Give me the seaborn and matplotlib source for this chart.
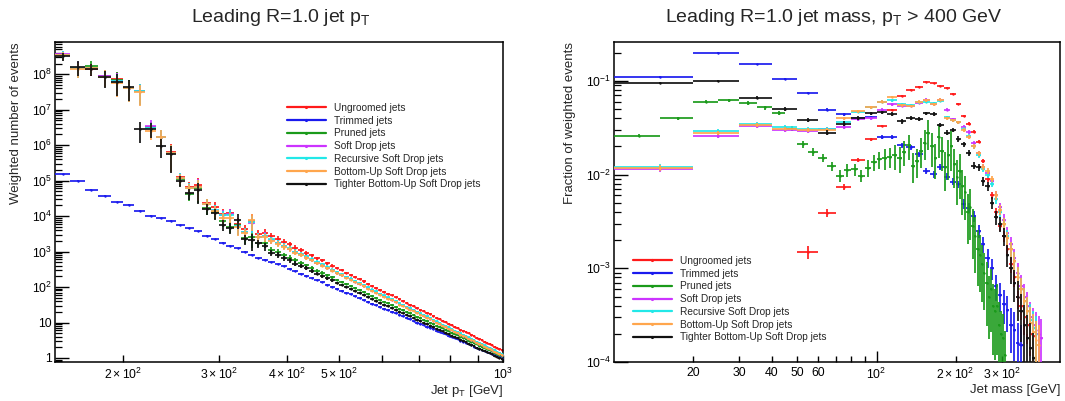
import numpy as np
import matplotlib
matplotlib.use("Agg")
import matplotlib.pyplot as plt
import seaborn as sns
from matplotlib.lines import Line2D
from matplotlib.ticker import FixedLocator, FixedFormatter, NullFormatter

nan = float("nan")

# ---------------- data: left panel (leading jet pT, 10 GeV bins 150-1000) ----------------
pt_edges = list(range(150, 1001, 10))

ungroomed_pt = [3.4e8, 1.5e8, 1.4e8, 9.0e7, 7.2e7, 4.2e7, 3.3e7, 3.2e6, 1.75e6, 6.4e5,
                1.25e5, 6.6e4, 7.6e4, 2.3e4, 1.8e4, 1.15e4, 1.2e4, 6.0e3, 4.4e3, 7.5e3,
                3.2e3, 3.4e3,
                2.8e3, 2.3e3, 1.9e3, 1.6e3, 1.3e3, 1.1e3, 9.3e2, 7.8e2, 6.5e2, 5.6e2,
                4.7e2, 4.0e2, 3.4e2, 3.0e2, 2.5e2, 2.2e2, 1.9e2, 1.66e2, 1.44e2, 1.25e2,
                1.09e2, 9.6e1, 8.3e1, 7.4e1, 6.5e1, 5.8e1, 5.1e1, 4.5e1, 4.1e1, 3.6e1,
                3.2e1, 2.9e1, 2.6e1, 2.3e1, 2.1e1, 1.9e1, 1.7e1, 1.5e1, 1.37e1, 1.23e1,
                1.12e1, 1.02e1, 9.3, 8.3, 7.6, 7.0, 6.3, 5.8, 5.3, 4.9,
                4.4, 4.1, 3.7, 3.4, 3.2, 2.9, 2.7, 2.5, 2.3, 2.1,
                1.95, 1.8, 1.66]
trimmed_pt = [1.5e5, 9.8e4, 5.5e4, 3.8e4, 2.5e4, 2.1e4, 1.4e4, 1.02e4, 8.8e3, 7.4e3,
              5.5e3, 4.6e3, 3.7e3, 2.8e3, 2.25e3, 1.8e3, 1.45e3, 1.26e3, 1.0e3, 8.1e2,
              6.6e2, 5.9e2,
              5.0e2, 4.4e2, 3.8e2, 3.3e2, 2.8e2, 2.4e2, 2.1e2, 1.8e2, 1.55e2, 1.35e2,
              1.17e2, 1.02e2, 8.9e1, 7.9e1, 6.9e1, 6.2e1, 5.5e1, 4.9e1, 4.3e1, 3.85e1,
              3.4e1, 3.1e1, 2.75e1, 2.45e1, 2.2e1, 2.0e1, 1.8e1, 1.63e1, 1.49e1, 1.35e1,
              1.23e1, 1.1e1, 1.0e1, 9.2, 8.5, 7.7, 7.1, 6.5, 5.9, 5.4,
              5.0, 4.6, 4.3, 3.9, 3.6, 3.4, 3.1, 2.9, 2.65, 2.5,
              2.3, 2.1, 1.97, 1.83, 1.73, 1.6, 1.49, 1.4, 1.3, 1.21,
              1.14, 1.07, 1.0]
pruned_pt = [3.5e8, 1.5e8, 1.75e8, 8.8e7, 7.0e7, 4.2e7, 3.3e7, 3.2e6, 1.7e6, 6.0e5,
             1.1e5, 4.2e4, 6.0e4, 1.7e4, 1.3e4, 7.5e3, 5.0e3, 5.5e3, 2.4e3, 2.5e3,
             1.8e3, 1.7e3,
             1.12e3, 9.7e2, 7.9e2, 6.8e2, 5.6e2, 4.8e2, 4.1e2, 3.5e2, 2.9e2, 2.5e2,
             2.15e2, 1.86e2, 1.6e2, 1.41e2, 1.22e2, 1.07e2, 9.4e1, 8.2e1, 7.2e1, 6.3e1,
             5.6e1, 5.0e1, 4.4e1, 3.9e1, 3.5e1, 3.1e1, 2.75e1, 2.45e1, 2.2e1, 2.0e1,
             1.8e1, 1.6e1, 1.46e1, 1.32e1, 1.2e1, 1.09e1, 9.8, 8.9, 8.1, 7.3,
             6.8, 6.1, 5.7, 5.1, 4.7, 4.4, 4.0, 3.6, 3.4, 3.1,
             2.85, 2.6, 2.4, 2.2, 2.1, 1.9, 1.78, 1.66, 1.54, 1.41,
             1.32, 1.24, 1.14]
softdrop_pt = [3.6e8, 1.5e8, 1.45e8, 8.8e7, 6.6e7, 4.1e7, 3.4e7, 3.5e6, 1.75e6, 6.0e5,
               1.2e5, 6.2e4, 6.8e4, 2.2e4, 1.5e4, 1.1e4, 1.15e4, 5.3e3, 3.6e3, 6.5e3,
               2.6e3, 2.8e3,
               2.1e3, 1.75e3, 1.45e3, 1.2e3, 9.8e2, 8.3e2, 7.0e2, 5.9e2, 4.9e2, 4.2e2,
               3.5e2, 3.0e2, 2.55e2, 2.25e2, 1.9e2, 1.65e2, 1.43e2, 1.25e2, 1.08e2, 9.4e1,
               8.2e1, 7.2e1, 6.2e1, 5.5e1, 4.9e1, 4.3e1, 3.8e1, 3.4e1, 3.1e1, 2.7e1,
               2.4e1, 2.2e1, 1.95e1, 1.72e1, 1.57e1, 1.42e1, 1.27e1, 1.12e1, 1.03e1, 9.2,
               8.4, 7.6, 7.0, 6.2, 5.7, 5.2, 4.7, 4.3, 4.0, 3.7,
               3.3, 3.1, 2.8, 2.55, 2.4, 2.2, 2.0, 1.88, 1.72, 1.58,
               1.46, 1.35, 1.25]
recursive_sd_pt = [3.5e8, 1.45e8, 1.45e8, 8.6e7, 6.4e7, 4.1e7, 3.3e7, 3.0e6, 1.7e6, 6.1e5,
                   1.2e5, 6.2e4, 6.7e4, 2.2e4, 1.5e4, 1.05e4, 1.1e4, 5.2e3, 3.5e3, 6.8e3,
                   2.6e3, 2.7e3,
                   2.2e3, 1.8e3, 1.48e3, 1.25e3, 1.0e3, 8.6e2, 7.3e2, 6.1e2, 5.1e2, 4.4e2,
                   3.7e2, 3.1e2, 2.65e2, 2.35e2, 1.95e2, 1.72e2, 1.48e2, 1.3e2, 1.12e2, 9.8e1,
                   8.5e1, 7.5e1, 6.5e1, 5.8e1, 5.1e1, 4.5e1, 4.0e1, 3.5e1, 3.2e1, 2.8e1,
                   2.5e1, 2.26e1, 2.03e1, 1.8e1, 1.64e1, 1.48e1, 1.33e1, 1.17e1, 1.07e1, 9.6,
                   8.7, 8.0, 7.3, 6.5, 5.9, 5.5, 4.9, 4.5, 4.1, 3.8,
                   3.4, 3.2, 2.9, 2.65, 2.5, 2.26, 2.1, 1.95, 1.8, 1.64,
                   1.52, 1.4, 1.3]
bottomup_sd_pt = [3.4e8, 1.4e8, 1.45e8, 8.5e7, 5.6e7, 4.0e7, 3.2e7, 2.5e6, 1.7e6, 6.0e5,
                  1.15e5, 6.0e4, 6.5e4, 2.2e4, 1.4e4, 9.0e3, 9.0e3, 5.0e3, 3.4e3, 7.6e3,
                  2.5e3, 2.5e3,
                  2.0e3, 1.65e3, 1.37e3, 1.15e3, 9.4e2, 7.9e2, 6.7e2, 5.6e2, 4.7e2, 4.0e2,
                  3.4e2, 2.9e2, 2.45e2, 2.15e2, 1.8e2, 1.58e2, 1.37e2, 1.2e2, 1.04e2, 9.0e1,
                  7.8e1, 6.9e1, 6.0e1, 5.3e1, 4.7e1, 4.2e1, 3.7e1, 3.2e1, 2.95e1, 2.6e1,
                  2.3e1, 2.1e1, 1.87e1, 1.66e1, 1.5e1, 1.37e1, 1.22e1, 1.08e1, 9.9, 8.9,
                  8.1, 7.3, 6.7, 6.0, 5.5, 5.0, 4.5, 4.2, 3.8, 3.5,
                  3.2, 2.95, 2.65, 2.45, 2.3, 2.1, 1.95, 1.8, 1.65, 1.5,
                  1.4, 1.3, 1.2]
tighter_busd_pt = [3.2e8, 1.6e8, 1.4e8, 8.3e7, 6.2e7, 4.3e7, 2.9e6, 2.9e6, 9.5e5, 5.5e5,
                   1.0e5, 4.4e4, 5.5e4, 1.6e4, 1.2e4, 5.7e3, 4.7e3, 7.9e3, 2.2e3, 2.1e3,
                   1.7e3, 1.4e3,
                   9.2e2, 8.0e2, 6.5e2, 5.6e2, 4.6e2, 3.9e2, 3.4e2, 2.9e2, 2.4e2, 2.05e2,
                   1.76e2, 1.53e2, 1.31e2, 1.16e2, 1.0e2, 8.8e1, 7.7e1, 6.7e1, 5.9e1, 5.2e1,
                   4.6e1, 4.1e1, 3.6e1, 3.2e1, 2.9e1, 2.5e1, 2.25e1, 2.0e1, 1.8e1, 1.64e1,
                   1.48e1, 1.31e1, 1.2e1, 1.08e1, 9.8, 8.9, 8.0, 7.3, 6.6, 6.0,
                   5.6, 5.0, 4.7, 4.2, 3.9, 3.6, 3.3, 3.0, 2.8, 2.55,
                   2.35, 2.15, 1.97, 1.8, 1.72, 1.56, 1.46, 1.36, 1.26, 1.16,
                   1.08, 1.02, 0.94]
# relative uncertainty per pT bin (weighted events)
pt_rel_err = [0.25, 0.45, 0.35, 0.5, 0.6, 0.6, 0.6, 0.45, 0.55, 0.7,
              0.35, 0.35, 0.6, 0.35, 0.35, 0.35, 0.35, 0.45, 0.3, 0.5,
              0.25, 0.25, 0.2, 0.2, 0.18, 0.15, 0.15, 0.12, 0.12, 0.12,
              0.1, 0.1, 0.1, 0.1, 0.08, 0.08, 0.08, 0.08, 0.08, 0.07,
              0.07, 0.07, 0.07, 0.06, 0.06, 0.06, 0.06, 0.06, 0.06, 0.06,
              0.06, 0.06, 0.06, 0.06, 0.06, 0.06, 0.06, 0.06, 0.06, 0.06,
              0.06, 0.06, 0.06, 0.06, 0.06, 0.06, 0.06, 0.06, 0.06, 0.06,
              0.06, 0.06, 0.06, 0.06, 0.06, 0.06, 0.06, 0.06, 0.06, 0.06,
              0.06, 0.06, 0.06, 0.06, 0.06]

# ---------------- data: right panel (leading jet mass, pT > 400 GeV) ----------------
mass_edges_10 = list(range(10, 501, 10))
mass_edges_5 = list(range(10, 501, 5))

ungroomed_m = [nan, nan, nan, nan, 0.0015, 0.0039, 0.0074, 0.0143, 0.0237, 0.033,
               0.049, 0.069, 0.080, 0.086, 0.098, 0.094, 0.0885, 0.084, 0.073, 0.057,
               0.042, 0.035, 0.0286, 0.0224, 0.014, 0.009, 0.006, 0.004, 0.0028, 0.0022,
               0.0016, 0.0011, 8e-4, 5e-4, 4e-4, 3e-4, 2.5e-4, 2e-4, 1.9e-4, nan,
               nan, nan, nan, nan, nan, nan, nan, nan, nan]
trimmed_m = [0.11, 0.20, 0.15, 0.105, 0.074, 0.0495, 0.044, 0.040, 0.041, 0.0253,
             0.025, 0.0206, 0.0195, 0.0165, 0.011, 0.0101, 0.012, 0.0095, 0.0084, 0.0079,
             0.0049, 0.0044, 0.0036, 0.0025, 0.0018, 0.0013, 0.0010, 6.5e-4, 5.2e-4, 4.2e-4,
             3.6e-4, 2.5e-4, 2.2e-4, 1.6e-4, 1.5e-4, nan, nan, nan, nan, nan,
             nan, nan, nan, nan, nan, nan, nan, nan, nan]
pruned_m = [0.026, 0.040, 0.060, 0.062, 0.058, 0.052, 0.045, 0.031, 0.021, 0.0175,
            0.015, 0.0123, 0.0097, 0.0112, 0.0114, 0.0097, 0.0118, 0.0135, 0.0145, 0.015,
            0.0155, 0.016, 0.015, 0.0175, 0.0205, 0.0125, 0.014, 0.018, 0.022, 0.028,
            0.020, 0.015, 0.025, 0.018, 0.012, 0.016, 0.020, 0.013, 0.0095, 0.011,
            0.0075, 0.0065, 0.004, 0.0045, 0.0028, 0.0022, 0.0016, 0.0014, 0.0011, 9e-4,
            7e-4, 5e-4, 6e-4, 4e-4, 3.5e-4, 4e-4, 2.5e-4, 2e-4, 1.8e-4, 1.2e-4] + [nan] * 38
pruned_m_rel_err = [0.04, 0.04, 0.04, 0.04, 0.05, 0.05, 0.05, 0.06, 0.08, 0.1,
                    0.1, 0.12, 0.15, 0.15, 0.15, 0.15, 0.2, 0.2, 0.2, 0.25,
                    0.25, 0.3, 0.3, 0.3, 0.3, 0.35, 0.35, 0.35, 0.35, 0.35,
                    0.4, 0.4, 0.4, 0.4, 0.45, 0.45, 0.45, 0.45, 0.5, 0.5,
                    0.5, 0.5, 0.55, 0.55, 0.55, 0.6, 0.6, 0.6, 0.6, 0.6,
                    0.65, 0.65, 0.65, 0.7, 0.7, 0.7, 0.75, 0.75, 0.8, 0.8] + [0.8] * 38
softdrop_m = [0.0115, 0.026, 0.033, 0.030, 0.029, 0.031, 0.032, 0.039, 0.040, 0.049,
              0.0565, 0.054, 0.054, 0.058, 0.063, 0.057, 0.063, 0.049, 0.039, 0.036,
              0.032, 0.0286, 0.0215, 0.017, 0.012, 0.0105, 0.0085, 0.006, 0.0045, 0.0033,
              0.0024, 0.0018, 0.0013, 9e-4, 6.5e-4, 5e-4, 4e-4, 3e-4, 2.5e-4, 2.2e-4,
              2e-4, 1.8e-4, nan, nan, nan, nan, nan, nan, nan]
recursive_sd_m = [0.012, 0.029, 0.035, 0.032, 0.031, 0.031, 0.036, 0.047, 0.052, 0.060,
                  0.062, 0.056, 0.055, 0.059, 0.060, 0.058, 0.061, 0.041, 0.038, 0.036,
                  0.031, 0.026, 0.020, 0.016, 0.0115, 0.010, 0.008, 0.0055, 0.004, 0.003,
                  0.0022, 0.0016, 0.0012, 8e-4, 6e-4, 4.5e-4, 3.5e-4, 2.8e-4, 2.3e-4, 2e-4,
                  nan, nan, nan, nan, nan, nan, nan, nan, nan]
bottomup_sd_m = [0.0118, 0.028, 0.034, 0.031, 0.030, 0.030, 0.040, 0.0475, 0.052, 0.060,
                 0.0675, 0.055, 0.054, 0.060, 0.062, 0.0565, 0.063, 0.040, 0.038, 0.036,
                 0.030, 0.025, 0.020, 0.017, 0.012, 0.011, 0.009, 0.006, 0.0042, 0.003,
                 0.0021, 0.0016, 0.0012, 8e-4, 6e-4, 4.5e-4, 3.5e-4, 2.6e-4, 2.1e-4, 1.7e-4,
                 1.5e-4, nan, nan, nan, nan, nan, nan, nan, nan]
tighter_busd_m = [0.095, 0.10, 0.066, 0.05, 0.038, 0.028, 0.035, 0.040, 0.045, 0.046,
                  0.044, 0.037, 0.040, 0.039, 0.045, 0.044, 0.034, 0.028, 0.030, 0.024,
                  0.021, 0.017, 0.0125, 0.012, 0.0085, 0.0075, 0.005, 0.0035, 0.003, 0.0022,
                  0.0014, 0.001, 7e-4, 5e-4, 3.5e-4, 2.5e-4, 1.8e-4, 1.4e-4, 1.1e-4, nan,
                  nan, nan, nan, nan, nan, nan, nan, nan, nan]

labels = ["Ungroomed jets", "Trimmed jets", "Pruned jets", "Soft Drop jets",
          "Recursive Soft Drop jets", "Bottom-Up Soft Drop jets",
          "Tighter Bottom-Up Soft Drop jets"]
colors = ["#ff1a1a", "#1a1aee", "#1a9a1a", "#cc33ff", "#22e8e8", "#ffa64d", "#111111"]

# ---------------- style ----------------
sns.set_style("ticks")
plt.rcParams['font.family'] = ['Liberation Sans', 'DejaVu Sans']
plt.rcParams['mathtext.fontset'] = 'custom'
plt.rcParams['mathtext.rm'] = 'Liberation Sans'
plt.rcParams['mathtext.it'] = 'Liberation Sans:italic'
plt.rcParams['mathtext.bf'] = 'Liberation Sans:bold'
plt.rcParams['axes.linewidth'] = 1.1
plt.rcParams['axes.edgecolor'] = 'black'

W, H = 1065, 401
fig = plt.figure(figsize=(W / 100, H / 100), dpi=100)
axL = fig.add_axes([55 / W, 1 - 362 / H, (503 - 55) / W, (362 - 42) / H])
axR = fig.add_axes([614 / W, 1 - 362 / H, (1060 - 614) / W, (362 - 42) / H])


def draw(ax, edges, vals, color, rel, z):
    e = np.asarray(edges, float)
    v = np.asarray(vals, float)
    lo, hi = e[:-1], e[1:]
    c = 0.5 * (lo + hi)
    r = np.asarray(rel, float) * np.ones_like(v)
    m = np.isfinite(v) & (v > 0)
    up = v * r
    dn = np.minimum(v * r, v * 0.9)
    ax.errorbar(c[m], v[m], xerr=[c[m] - lo[m], hi[m] - c[m]], yerr=[dn[m], up[m]],
                fmt='none', ecolor=color, elinewidth=1.3, capsize=0, zorder=z, alpha=0.95)
    sns.scatterplot(x=c[m], y=v[m], color=color, s=3, linewidth=0, ax=ax,
                    zorder=z + 0.5, legend=False)


def stat_err(vals, k):
    v = np.asarray(vals, float)
    return np.minimum(k / np.sqrt(np.where(v > 0, v, 1.0)), 0.85)


pt_series = [ungroomed_pt, trimmed_pt, pruned_pt, softdrop_pt, recursive_sd_pt,
             bottomup_sd_pt, tighter_busd_pt]
for i, (vals, col) in enumerate(zip(pt_series, colors)):
    rel = [0.03] * len(vals) if i == 1 else pt_rel_err
    draw(axL, pt_edges, vals, col, rel, 2 + i)

m_series = [ungroomed_m, trimmed_m, pruned_m, softdrop_m, recursive_sd_m,
            bottomup_sd_m, tighter_busd_m]
m_edges = [mass_edges_10, mass_edges_10, mass_edges_5, mass_edges_10, mass_edges_10,
           mass_edges_10, mass_edges_10]
m_k = [0.006, 0.008, None, 0.008, 0.008, 0.008, 0.01]
for i, (vals, col) in enumerate(zip(m_series, colors)):
    rel = pruned_m_rel_err if i == 2 else stat_err(vals, m_k[i])
    draw(axR, m_edges[i], vals, col, rel, 2 + i)

# ---------------- axes formatting ----------------
for ax in (axL, axR):
    ax.set_xscale('log')
    ax.set_yscale('log')
    ax.tick_params(which='both', direction='in', top=False, right=False,
                   labelsize=8.8, colors='black')
    for s in ax.spines.values():
        s.set_visible(True)
        s.set_color('black')

axL.set_xlim(150, 1000)
axL.set_ylim(0.77, 8.1e8)
axR.set_xlim(10, 500)
axR.set_ylim(1e-4, 0.26)


def ylabels(ax, lo, hi):
    ticks = [10.0 ** k for k in range(lo, hi + 1)]
    labs = []
    for k in range(lo, hi + 1):
        if k == 0:
            labs.append("1")
        elif k == 1:
            labs.append("10")
        else:
            labs.append(r"$10^{%d}$" % k)
    ax.yaxis.set_major_locator(FixedLocator(ticks))
    ax.yaxis.set_major_formatter(FixedFormatter(labs))
    minors = [m * 10.0 ** k for k in range(lo - 1, hi + 1) for m in range(2, 10)]
    ax.yaxis.set_minor_locator(FixedLocator(minors))
    ax.yaxis.set_minor_formatter(NullFormatter())
    ax.tick_params(axis='y', which='major', length=10, width=1.0, pad=2)
    ax.tick_params(axis='y', which='minor', length=5, width=0.9)


ylabels(axL, 0, 8)
ylabels(axR, -4, -1)

axL.xaxis.set_major_locator(FixedLocator([200, 300, 400, 500, 600, 700, 800, 900, 1000]))
axL.xaxis.set_major_formatter(FixedFormatter([r"$2\times10^{2}$", r"$3\times10^{2}$",
                                              r"$4\times10^{2}$", r"$5\times10^{2}$",
                                              "", "", "", "", r"$10^{3}$"]))
axL.xaxis.set_minor_locator(FixedLocator([]))
axL.tick_params(axis='x', which='major', length=5, width=1.0, pad=3.5)

axR.xaxis.set_major_locator(FixedLocator([20, 30, 40, 50, 60, 70, 80, 90, 100, 200, 300, 400]))
axR.xaxis.set_major_formatter(FixedFormatter(["20", "30", "40", "50", "60", "", "", "",
                                              r"$10^{2}$", r"$2\times10^{2}$",
                                              r"$3\times10^{2}$", ""]))
axR.xaxis.set_minor_locator(FixedLocator([]))
axR.tick_params(axis='x', which='major', length=4.5, width=1.0, pad=3.5)
axR.xaxis.get_major_ticks()[8].tick1line.set_markersize(8)

# ---------------- titles and labels ----------------
fig.text(281 / W, 1 - 17 / H, r"Leading R=1.0 jet $\mathrm{p}_{\mathrm{T}}$",
         ha='center', va='center', fontsize=14)
fig.text(834 / W, 1 - 17 / H, r"Leading R=1.0 jet mass, $\mathrm{p}_{\mathrm{T}}$ > 400 GeV",
         ha='center', va='center', fontsize=14)
fig.text(16 / W, 1 - 42 / H, "Weighted number of events", rotation=90,
         ha='center', va='top', fontsize=9.5)
fig.text(570 / W, 1 - 42 / H, "Fraction of weighted events", rotation=90,
         ha='center', va='top', fontsize=9.5)
fig.text(503 / W, 1 - 391 / H, r"Jet $\mathrm{p}_{\mathrm{T}}$ [GeV]",
         ha='right', va='center', fontsize=9.5)
fig.text(1060 / W, 1 - 390 / H, "Jet mass [GeV]", ha='right', va='center', fontsize=9.5)

# ---------------- legends ----------------
handles = [Line2D([0], [0], color=c, lw=1.6, marker='.', ms=2.5) for c in colors]
fig.legend(handles, labels, loc='upper left', bbox_to_anchor=(287 / W, 1 - 103 / H),
           frameon=False, fontsize=7.3, handlelength=3.8, handletextpad=0.8,
           labelspacing=0.27, borderpad=0, borderaxespad=0)
fig.legend(handles, labels, loc='upper left', bbox_to_anchor=(633 / W, 1 - 256 / H),
           frameon=False, fontsize=7.3, handlelength=3.8, handletextpad=0.8,
           labelspacing=0.27, borderpad=0, borderaxespad=0)

fig.savefig("out.png", dpi=100, facecolor='white')
